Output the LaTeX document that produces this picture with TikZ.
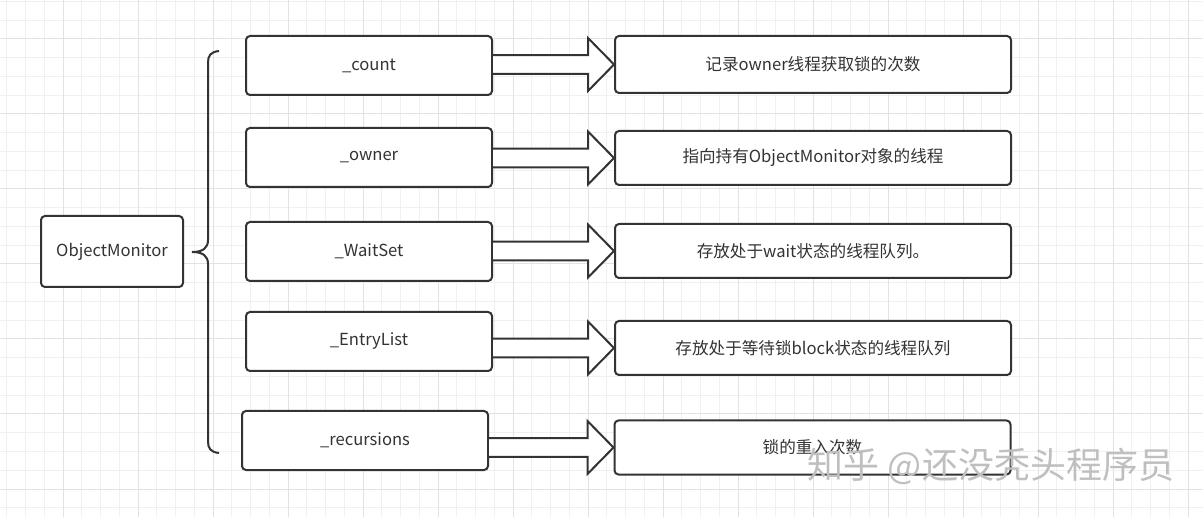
\documentclass[tikz,border=0pt]{standalone}
\usepackage{fontspec}
\setmainfont{Noto Sans CJK SC}
\usetikzlibrary{calc}
\definecolor{inkgray}{HTML}{333333}
\definecolor{gridminor}{HTML}{F0F0F0}
\definecolor{gridmajor}{HTML}{E2E2E2}
\tikzset{
  field/.style={draw=inkgray, line width=1pt, rounded corners=2pt, fill=white,
    minimum width=123pt, minimum height=29.5pt, inner sep=0pt, text=inkgray,
    font=\fontsize{8.3}{10}\selectfont},
  note/.style={field, minimum width=198pt, minimum height=27pt},
  fatarrow/.style={draw=inkgray, line width=1pt, fill=white, line join=miter}
}
% hollow block arrow from the east side of #1 to the west side of #2
\newcommand{\fatarrow}[2]{
  \draw[fatarrow] ($(#1.east |- #2.west)+(0,-9.3)$) -- ($(#2.west)+(-26,-9.3)$)
    -- ($(#2.west)+(-26,-26.5)$) -- (#2.west) -- ($(#2.west)+(-26,26.5)$)
    -- ($(#2.west)+(-26,9.3)$) -- ($(#1.east |- #2.west)+(0,9.3)$);
}
\begin{document}
\begin{tikzpicture}[x=0.5pt, y=-0.5pt]
\useasboundingbox (0,0) rectangle (1203,517);
\fill[white] (0,0) rectangle (1203,517);
% grid paper
\foreach \x in {6.75,25.5,...,1203} \draw[gridminor, line width=0.5pt] (\x,0) -- (\x,517);
\foreach \y in {1.5,20.25,...,517} \draw[gridminor, line width=0.5pt] (0,\y) -- (1203,\y);
\foreach \x in {63,138,...,1203} \draw[gridmajor, line width=0.5pt] (\x,0) -- (\x,517);
\foreach \y in {39,114,...,517} \draw[gridmajor, line width=0.5pt] (0,\y) -- (1203,\y);

\node[field, minimum width=71pt, minimum height=35.5pt] (om) at (112,251.5) {ObjectMonitor};

\node[field] (count) at (369,65.5) {\_count};
\node[field] (owner) at (369,157.5) {\_owner};
\node[field] (waitset) at (369,251.5) {\_WaitSet};
\node[field] (entry) at (369,341.5) {\_EntryList};
\node[field] (recur) at (365,440.5) {\_recursions};

\node[note, minimum height=28.5pt] (countnote) at (813,64.5) {记录owner线程获取锁的次数};
\node[note] (ownernote) at (813,158) {指向持有ObjectMonitor对象的线程};
\node[note] (waitnote) at (813,251) {存放处于wait状态的线程队列。};
\node[note] (entrynote) at (813,348) {存放处于等待锁block状态的线程队列};
\node[note] (recurnote) at (812.5,447.5) {锁的重入次数};

% brace
\coordinate (bracetip) at (192,252);
\draw[inkgray, line width=1pt] (219,51) .. controls (210,52) and (208,56) .. (208,63) -- (208,240)
  .. controls (208,248) and (203,252) .. (bracetip) .. controls (203,252) and (208,256) .. (208,264)
  -- (208,441) .. controls (208,448) and (210,452) .. (219,453);

\fatarrow{count}{countnote}
\fatarrow{owner}{ownernote}
\fatarrow{waitset}{waitnote}
\fatarrow{entry}{entrynote}
\fatarrow{recur}{recurnote}

\node[text=gray!50, font=\fontsize{18}{21}\selectfont, inner sep=0pt] (mark) at (991,466) {知乎 @还没秃头程序员};
\end{tikzpicture}
\end{document}
